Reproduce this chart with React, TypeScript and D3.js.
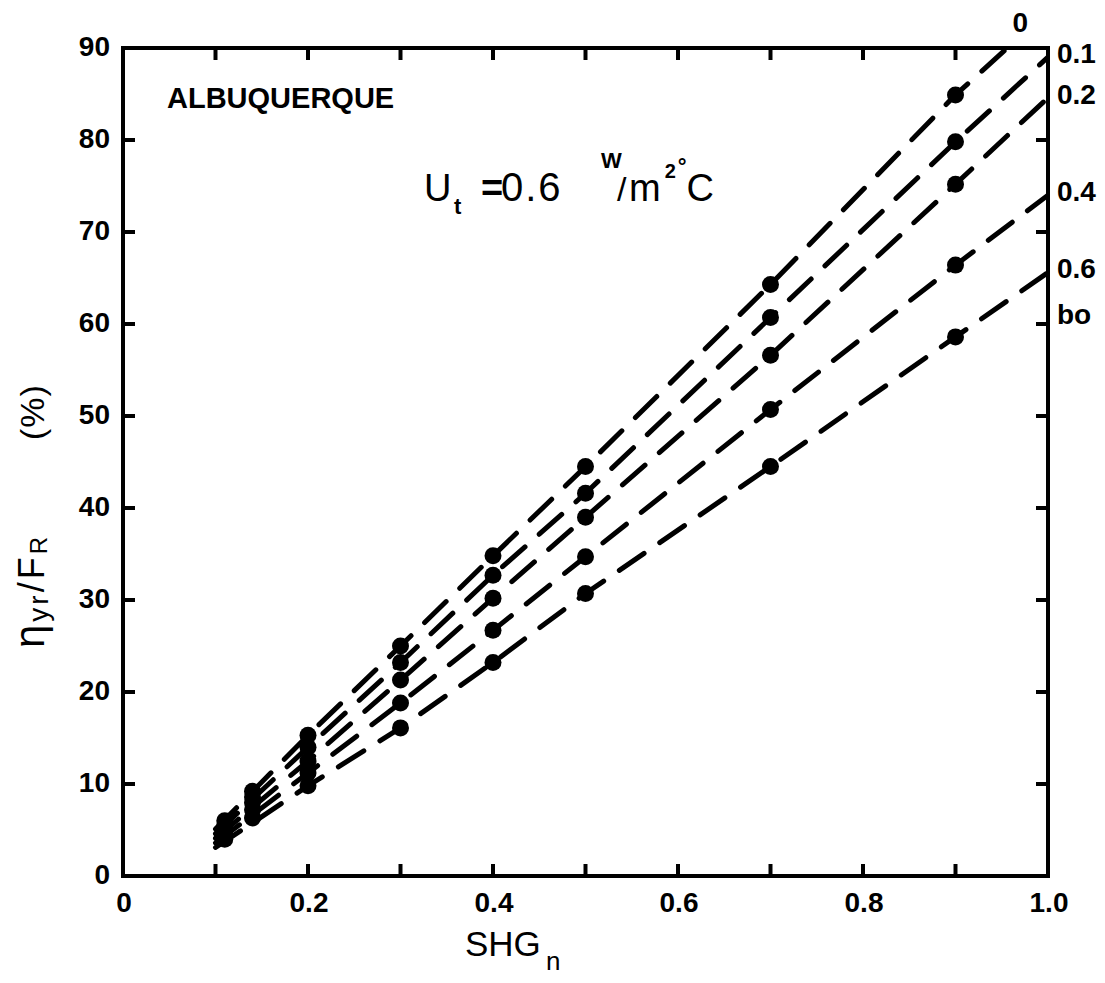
import React from 'react';
import * as d3 from 'd3';

const width = 1105,
      height = 983;

// SHG_n values where the plotted points sit
const dotShg = [0.11, 0.14, 0.2, 0.3, 0.4, 0.5, 0.7, 0.9];

// b0 parameter of each curve (labels at the right)
const b0Labels = ['0', '0.1', '0.2', '0.4', '0.6'];

// eta_yr / F_R (%), one array per b0
const effB0_0 = [6.0, 9.2, 15.3, 25.0, 34.8, 44.5, 64.3, 84.9];
const effB0_01 = [5.5, 8.6, 14.0, 23.2, 32.7, 41.6, 60.7, 79.8];
const effB0_02 = [5.0, 8.0, 12.5, 21.3, 30.2, 39.0, 56.6, 75.2];
const effB0_04 = [4.5, 7.2, 11.2, 18.8, 26.7, 34.7, 50.7, 66.4];
const effB0_06 = [4.0, 6.3, 9.8, 16.1, 23.2, 30.7, 44.5, 58.6];

// dashed fit lines: value at SHG = 0.1 and at SHG = 1.0
const lineStart = [5.1, 4.6, 4.1, 3.6, 3.1];
const lineEnd = [94.0, 89.0, 84.6, 74.0, 65.6];

const xTicks = [0, 0.2, 0.4, 0.6, 0.8, 1.0];
const xMinor = [0.1, 0.2, 0.3, 0.4, 0.5, 0.6, 0.7, 0.8, 0.9];
const yTicks = [0, 10, 20, 30, 40, 50, 60, 70, 80, 90];

const series = [effB0_0, effB0_01, effB0_02, effB0_04, effB0_06];

const font = "'Liberation Sans', Arial, Helvetica, sans-serif";

export default function App() {
  const x = d3.scaleLinear().domain([0, 1]).range([123, 1048]);
  const y = d3.scaleLinear().domain([0, 90]).range([876, 48]);

  const line = d3.line<[number, number]>()
    .x(d => x(d[0]))
    .y(d => y(d[1]));

  const lines = series.map((vals, i) => {
    const pts: [number, number][] = [[0.1, lineStart[i]]];
    dotShg.forEach((s, j) => { if (s >= 0.2) pts.push([s, vals[j]]); });
    pts.push([1.0, lineEnd[i]]);
    return pts;
  });

  // where the b0 = 0 line leaves through the top border
  const top = lines[0];
  const a = top[top.length - 2], b = top[top.length - 1];
  const topCross = a[0] + (90 - a[1]) / (b[1] - a[1]) * (b[0] - a[0]);

  const [x0, x1] = x.range();
  const [yb, yt] = y.range();
  const tick = 12;

  return (
    <svg width={width} height={height}
         style={{position: 'absolute', left: 0, top: 0, background: '#fff'}}>
      <defs>
        <clipPath id="plot">
          <rect x={x0} y={yt} width={x1 - x0} height={yb - yt} />
        </clipPath>
      </defs>

      <g clipPath="url(#plot)">
        {lines.map((pts, i) =>
          <path key={i} d={line(pts) || ''} fill="none" stroke="#000"
                strokeWidth={5} strokeDasharray="30 19" strokeLinecap="round" />
        )}
        {series.map((vals, i) =>
          vals.map((v, j) =>
            <circle key={`${i}-${j}`} cx={x(dotShg[j])} cy={y(v)} r={8.5} fill="#000" />
          ))}
      </g>

      {/* frame */}
      <rect x={x0} y={yt} width={x1 - x0} height={yb - yt}
            fill="none" stroke="#000" strokeWidth={4} />

      {xMinor.map(t =>
        <g key={'xt' + t} stroke="#000" strokeWidth={4}>
          <line x1={x(t)} x2={x(t)} y1={yb} y2={yb - tick} />
          <line x1={x(t)} x2={x(t)} y1={yt} y2={yt + tick} />
        </g>
      )}
      {yTicks.slice(1, -1).map(t =>
        <g key={'yt' + t} stroke="#000" strokeWidth={4}>
          <line x1={x0} x2={x0 + tick} y1={y(t)} y2={y(t)} />
          <line x1={x1} x2={x1 - tick} y1={y(t)} y2={y(t)} />
        </g>
      )}

      <g fontFamily={font} fontWeight="bold" fontSize={28} fill="#000">
        {xTicks.map(t =>
          <text key={'xl' + t} x={x(t) + 1} y={912} textAnchor="middle">
            {t === 0 ? '0' : t.toFixed(1)}
          </text>
        )}
        {yTicks.map(t =>
          <text key={'yl' + t} x={110} y={y(t) + 8} textAnchor="end">{t}</text>
        )}

        {/* b0 labels */}
        <text x={x(topCross) + 13} y={yt - 16} textAnchor="middle">{b0Labels[0]}</text>
        {b0Labels.slice(1).map((l, i) =>
          <text key={'b' + l} x={1057} y={y(lineEnd[i + 1]) + 6}>{l}</text>
        )}
        <text x={1057} y={y(lineEnd[4]) + 52}>bo</text>

        <text x={167} y={108} fontSize={29}>ALBUQUERQUE</text>
      </g>

      {/* U_t annotation */}
      <g fontFamily={font} fill="#000">
        <text x={424} y={201} fontSize={38}>U</text>
        <text x={454} y={214} fontSize={22} fontWeight="bold">t</text>
        <text x={481} y={201} fontSize={38} fontWeight="bold">=</text>
        <text x={501} y={201} fontSize={40} letterSpacing={2}>0.6</text>
        <text x={601} y={168} fontSize={22} fontWeight="bold">W</text>
        <text x={617} y={201} fontSize={34}>/</text>
        <text x={629} y={201} fontSize={38}>
          m
          <tspan fontSize={20} fontWeight="bold" dx={4} dy={-23}>2</tspan>
          <tspan fontSize={22} fontWeight="bold" dx={2} dy={-4}>°</tspan>
          <tspan dy={27}>C</tspan>
        </text>
      </g>

      {/* x axis title */}
      <g fontFamily={font} fill="#000">
        <text x={465} y={956} fontSize={35}>SHG</text>
        <text x={546} y={970} fontSize={26}>n</text>
      </g>

      {/* y axis title */}
      <g transform="translate(44, 648) rotate(-90)" fontFamily={font} fill="#000" fontSize={36}>
        <text x={0} y={0} letterSpacing={3}>
          <tspan fontSize={42}>η</tspan>
          <tspan fontSize={28} dy={4}>yr</tspan>
          <tspan dy={-4}>/F</tspan>
          <tspan fontSize={24} dy={3}>R</tspan>
        </text>
        <text x={208} y={0} fontSize={34} letterSpacing={1}>(%)</text>
      </g>
    </svg>
  );
}
